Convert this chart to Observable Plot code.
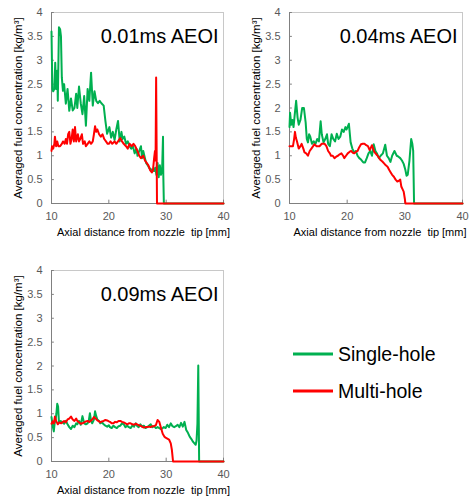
<!DOCTYPE html>
<html>
<head>
<meta charset="utf-8">
<script src="https://cdn.jsdelivr.net/npm/d3@7"></script>
<script src="https://cdn.jsdelivr.net/npm/@observablehq/plot@0.6"></script>
<style>
  html, body { margin: 0; padding: 0; background: #fff; overflow: hidden; }
  body { width: 470px; height: 499px; position: relative; font-family: Arial, "Liberation Sans", sans-serif; }
  .panel { position: absolute; }
  .panel svg { overflow: visible; }
</style>
</head>
<body>
<div id="p1" class="panel" style="left:0px; top:0px;"></div>
<div id="p2" class="panel" style="left:238px; top:0px;"></div>
<div id="p3" class="panel" style="left:0px; top:258px;"></div>
<svg id="legend" style="position:absolute; left:280px; top:330px;" width="190" height="80"></svg>
<script>
// ---- data (x = axial distance [mm], y = averaged fuel concentration [kg/m3]) ----
const xTicks = [10, 20, 30, 40];
const yTicks = [0, 0.5, 1, 1.5, 2, 2.5, 3, 3.5, 4];
const seriesNames = ["Single-hole", "Multi-hole"];
const panelTitles = ["0.01ms AEOI", "0.04ms AEOI", "0.09ms AEOI"];
const xLabel = "Axial distance from nozzle  tip [mm]";
const yLabel = "Averaged fuel concentration [kg/m\u00B3]";

const single001 = [[10,3.6],[10.05,3.2],[10.15,2.4],[10.3,2.35],[10.5,2.4],[10.65,2.95],[10.8,2.4],[11.0,2.78],[11.1,2.15],[11.3,3.69],[11.5,3.65],[11.65,3.5],[11.8,2.64],[12.0,2.36],[12.2,2.5],[12.5,2.09],[12.8,2.4],[13.1,1.94],[13.4,2.2],[13.7,1.95],[14.0,2.0],[14.3,2.3],[14.5,2.0],[14.8,2.45],[15.1,2.1],[15.4,1.87],[15.7,2.25],[16.0,1.63],[16.3,2.4],[16.6,2.15],[16.9,2.74],[17.2,2.05],[17.5,2.35],[17.8,2.15],[18.1,2.1],[18.4,2.15],[18.7,2.1],[19.1,2.05],[19.4,1.73],[19.7,1.46],[20.1,1.6],[20.4,1.38],[20.7,1.5],[21.0,1.33],[21.3,1.55],[21.6,1.73],[21.9,1.3],[22.2,1.5],[22.4,1.35],[22.7,1.4],[23.0,1.25],[23.3,1.3],[23.6,1.2],[23.9,1.15],[24.2,1.2],[24.5,1.05],[24.8,1.15],[25.0,1.0],[25.3,1.1],[25.6,1.2],[25.8,0.95],[26.0,1.1],[26.3,0.95],[26.5,0.85],[26.8,0.8],[27.0,0.75],[27.3,0.72],[27.6,0.7],[27.9,0.68],[28.1,0.75],[28.3,0.6],[28.5,0.85],[28.7,0.55],[28.9,0.8],[29.1,0.6],[29.3,0.75],[29.45,1.4],[29.5,0.6],[29.6,0],[40,0]];
const multi001 = [[10,1.1],[10.1,1.2],[10.3,1.15],[10.5,1.25],[10.6,1.4],[10.8,1.2],[11.0,1.3],[11.2,1.2],[11.5,1.2],[11.8,1.25],[12.0,1.3],[12.3,1.25],[12.5,1.35],[12.7,1.25],[12.9,1.45],[13.1,1.5],[13.3,1.25],[13.5,1.35],[13.7,1.55],[13.9,1.3],[14.1,1.6],[14.3,1.3],[14.6,1.45],[14.8,1.3],[15.0,1.35],[15.3,1.45],[15.5,1.25],[15.8,1.3],[16.0,1.2],[16.3,1.25],[16.6,1.3],[16.9,1.25],[17.2,1.3],[17.4,1.45],[17.6,1.62],[17.8,1.5],[18.0,1.55],[18.3,1.45],[18.6,1.4],[18.9,1.45],[19.2,1.35],[19.5,1.3],[19.8,1.25],[20.0,1.25],[20.3,1.3],[20.6,1.25],[21.0,1.3],[21.3,1.25],[21.6,1.3],[22.0,1.37],[22.3,1.3],[22.6,1.25],[23.0,1.2],[23.3,1.15],[23.6,1.25],[24.0,1.2],[24.3,1.25],[24.6,1.2],[25.0,1.1],[25.3,1.0],[25.6,0.95],[26.0,1.0],[26.3,0.9],[26.6,0.85],[26.9,0.8],[27.2,0.7],[27.5,0.65],[27.7,0.7],[27.9,0.95],[28.05,1.1],[28.15,0.9],[28.25,2.64],[28.4,0],[40,0]];

const single004 = [[10,1.6],[10.1,1.9],[10.3,1.65],[10.5,1.75],[10.7,1.6],[10.9,1.85],[11.15,2.15],[11.4,1.8],[11.6,1.65],[11.9,1.75],[12.2,2.0],[12.5,2.0],[12.8,1.7],[13.0,1.35],[13.2,1.28],[13.4,1.45],[13.6,1.4],[13.9,1.25],[14.2,1.3],[14.5,1.25],[14.8,1.35],[15.1,1.3],[15.4,1.72],[15.6,1.45],[15.9,1.28],[16.2,1.35],[16.5,1.45],[16.7,1.25],[17.0,1.2],[17.3,1.45],[17.6,1.35],[17.9,1.3],[18.2,1.46],[18.5,1.35],[18.8,1.4],[19.1,1.55],[19.4,1.5],[19.7,1.6],[19.9,1.55],[20.3,1.67],[20.6,1.28],[20.9,1.15],[21.2,1.07],[21.5,1.1],[21.8,1.0],[22.1,0.95],[22.4,0.92],[22.8,0.86],[23.1,0.86],[23.4,0.95],[23.7,1.05],[24.0,1.1],[24.3,1.0],[24.6,1.24],[24.9,1.1],[25.2,1.04],[25.5,0.95],[25.8,1.0],[26.2,1.05],[26.6,1.23],[26.9,1.0],[27.2,0.95],[27.5,0.87],[27.8,1.0],[28.2,1.1],[28.6,1.0],[28.9,0.98],[29.2,0.95],[29.5,0.9],[29.8,0.83],[30.1,0.7],[30.3,0.58],[30.5,0.6],[30.8,0.9],[31.1,1.35],[31.3,1.25],[31.45,1.1],[31.6,0],[40,0]];
const multi004 = [[10,1.2],[10.3,1.2],[10.6,1.2],[10.8,1.35],[10.95,1.5],[11.1,1.38],[11.3,1.3],[11.6,1.15],[11.9,1.2],[12.1,1.25],[12.4,1.15],[12.6,1.07],[12.9,1.05],[13.2,1.0],[13.5,1.1],[13.8,1.15],[14.1,1.2],[14.3,1.24],[14.7,1.2],[15.2,1.2],[15.6,1.25],[16.1,1.25],[16.4,1.2],[16.7,1.1],[17.0,1.05],[17.2,1.0],[17.5,1.0],[17.8,0.95],[18.1,0.98],[18.4,1.0],[18.7,1.03],[19.0,1.05],[19.3,1.0],[19.5,0.95],[19.8,1.0],[20.1,1.05],[20.4,1.08],[20.7,1.1],[21.0,1.06],[21.2,1.05],[21.5,1.08],[21.8,1.1],[22.1,1.18],[22.4,1.24],[22.7,1.25],[23.0,1.25],[23.3,1.22],[23.6,1.2],[23.9,1.12],[24.0,1.14],[24.3,1.22],[24.7,1.08],[25.2,1.01],[25.5,0.96],[25.8,0.91],[26.1,0.88],[26.4,0.84],[26.7,0.8],[27.0,0.77],[27.3,0.7],[27.5,0.66],[27.8,0.6],[28.1,0.56],[28.4,0.5],[28.7,0.46],[29.0,0.48],[29.2,0.5],[29.4,0.35],[29.6,0.3],[29.8,0.25],[30.0,0.1],[30.1,0],[40,0]];

const single009 = [[10,0.93],[10.2,0.75],[10.4,0.63],[10.55,0.8],[10.7,0.86],[10.85,1.0],[11.0,1.21],[11.15,1.15],[11.3,0.82],[11.6,0.85],[11.9,0.82],[12.2,0.79],[12.5,0.85],[12.8,0.78],[13.1,0.72],[13.4,0.68],[13.7,0.75],[14.0,0.72],[14.3,0.8],[14.5,0.78],[14.8,0.85],[15.1,0.77],[15.4,0.95],[15.7,0.8],[16.0,0.78],[16.3,0.8],[16.5,0.85],[16.7,1.01],[16.9,0.85],[17.1,0.8],[17.4,0.88],[17.6,1.05],[17.8,0.95],[18.0,0.88],[18.3,0.85],[18.5,0.8],[18.8,0.82],[19.1,0.78],[19.4,0.75],[19.7,0.73],[20.0,0.76],[20.2,0.72],[20.5,0.7],[20.8,0.75],[21.1,0.72],[21.4,0.7],[21.7,0.74],[22.0,0.75],[22.3,0.8],[22.6,0.78],[22.9,0.72],[23.2,0.75],[23.5,0.72],[23.8,0.7],[24.1,0.75],[24.4,0.73],[24.7,0.8],[24.9,0.75],[25.2,0.72],[25.5,0.78],[25.8,0.73],[26.1,0.75],[26.4,0.7],[26.7,0.72],[27.0,0.75],[27.3,0.78],[27.6,0.72],[27.9,0.74],[28.2,0.7],[28.5,0.72],[28.8,0.7],[29.1,0.68],[29.4,0.7],[29.6,0.72],[29.9,0.7],[30.2,0.77],[30.5,0.72],[30.8,0.8],[31.1,0.74],[31.4,0.72],[31.7,0.74],[32.0,0.77],[32.3,0.72],[32.6,0.81],[32.9,0.73],[33.2,0.83],[33.5,0.66],[33.8,0.6],[34.1,0.52],[34.4,0.47],[34.7,0.41],[35.0,0.37],[35.15,0.35],[35.3,0.44],[35.45,0.79],[35.6,2.01],[35.75,0],[40,0]];
const multi009 = [[10,0.79],[10.2,0.84],[10.4,0.8],[10.6,0.94],[10.8,0.85],[11.1,0.78],[11.4,0.82],[11.7,0.8],[12.0,0.83],[12.2,0.85],[12.5,0.82],[12.8,0.88],[13.1,0.9],[13.4,0.94],[13.7,0.88],[14.0,0.85],[14.3,0.9],[14.5,0.85],[14.8,0.82],[15.1,0.79],[15.4,0.8],[15.7,0.82],[16.0,0.84],[16.3,0.85],[16.6,0.83],[16.8,0.85],[17.1,0.88],[17.4,0.93],[17.7,0.9],[18.0,0.86],[18.3,0.84],[18.5,0.82],[18.8,0.84],[19.1,0.85],[19.4,0.87],[19.7,0.86],[20.0,0.84],[20.2,0.83],[20.5,0.8],[20.8,0.8],[21.1,0.83],[21.4,0.82],[21.7,0.85],[22.0,0.85],[22.3,0.83],[22.6,0.82],[22.9,0.8],[23.2,0.78],[23.5,0.8],[23.8,0.8],[24.1,0.78],[24.4,0.77],[24.7,0.79],[24.9,0.78],[25.2,0.76],[25.5,0.75],[25.8,0.73],[26.1,0.71],[26.4,0.72],[26.7,0.72],[27.0,0.73],[27.3,0.72],[27.6,0.74],[27.9,0.74],[28.2,0.76],[28.5,0.87],[28.8,0.83],[29.1,0.7],[29.4,0.58],[29.7,0.52],[29.9,0.5],[30.2,0.48],[30.5,0.46],[30.8,0.38],[31.0,0.24],[31.2,0],[40,0]];

// ---- styling ----
const GREEN = "#00B050";
const RED = "#FF0000";
const FONT = "Arial, 'Liberation Sans', sans-serif";

function panel(single, multi, title, w, h, mr, mb, labelDx) {
  return Plot.plot({
    width: w, height: h,
    marginLeft: 51, marginRight: mr, marginTop: 12, marginBottom: mb,
    style: { fontFamily: FONT, background: "transparent", overflow: "visible" },
    x: { domain: [10, 40] },
    y: { domain: [0, 4] },
    marks: [
      Plot.frame({ stroke: "#c8c8c8" }),
      Plot.axisX({ ticks: xTicks, tickSize: 0, tickPadding: 9, label: null, fontSize: 11, color: "#595959" }),
      Plot.axisY({ ticks: yTicks, tickSize: 0, tickPadding: 9, label: null, fontSize: 11, color: "#595959", tickFormat: d => String(d) }),
      Plot.ruleY(yTicks, { x1: 10, x2: 10.5, stroke: "#808080" }),
      Plot.ruleX(xTicks, { y1: 0, y2: 0.07, stroke: "#808080" }),
      Plot.ruleX([10], { stroke: "#808080" }),
      Plot.ruleY([0], { stroke: "#808080" }),
      Plot.line(single, { x: d => d[0], y: d => d[1], stroke: GREEN, strokeWidth: 2 }),
      Plot.line(multi, { x: d => d[0], y: d => d[1], stroke: RED, strokeWidth: 2 }),
      Plot.text([title], { frameAnchor: "top-right", dx: -5, dy: 16, textAnchor: "end", fontSize: 20, fill: "#000" }),
      Plot.text([xLabel], { frameAnchor: "bottom", dx: labelDx, dy: 29, lineAnchor: "middle", textAnchor: "middle", fontSize: 11, fill: "#000", style: "white-space:pre" }),
      Plot.text([yLabel], { frameAnchor: "left", dx: -33, rotate: -90, textAnchor: "middle", lineAnchor: "middle", fontSize: 11.5, fill: "#000" })
    ]
  });
}

document.getElementById("p1").append(panel(single001, multi001, panelTitles[0], 235, 245, 12, 42, 6));
document.getElementById("p2").append(panel(single004, multi004, panelTitles[1], 232, 245, 8, 42, 4));
document.getElementById("p3").append(panel(single009, multi009, panelTitles[2], 235, 241, 12, 38, 6));

// ---- legend ----
const lg = d3.select("#legend");
const legendItems = [{ name: seriesNames[0], color: GREEN, y: 24 }, { name: seriesNames[1], color: RED, y: 61 }];
legendItems.forEach(it => {
  lg.append("line").attr("x1", 13).attr("x2", 53).attr("y1", it.y).attr("y2", it.y)
    .attr("stroke", it.color).attr("stroke-width", 3);
  lg.append("text").attr("x", 58).attr("y", it.y + 7).attr("font-size", 19.5)
    .attr("font-family", FONT).attr("fill", "#000").text(it.name);
});
</script>
</body>
</html>
